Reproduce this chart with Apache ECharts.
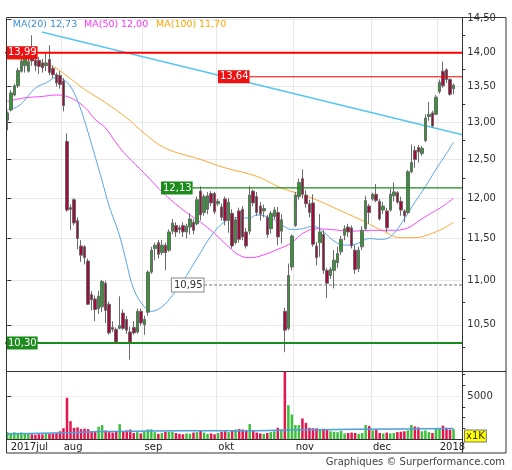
<!DOCTYPE html>
<html lang="fr">
<head>
    <meta charset="UTF-8">
    <title>Graphique cours</title>
    <script type="text/javascript" src="https://cdn.jsdelivr.net/npm/echarts@6.0.0/dist/echarts.min.js"></script>
    <style>
        body{
            padding: 0px;
            margin: 0px;
            background-color: #ffffff;
        }
        #chart{
            width: 512px;
            height: 470px;
        }
    </style>
</head>
<body>
<div id="chart"></div>
<script>
// month labels and the session index where each month starts
var months = ['2017jul', 'aug', 'sep', 'okt', 'nov', 'dec', '2018'];
var monthStart = [0, 16, 39, 60, 82, 104, 123];

// daily sessions
var open = [
    13.03,13.17,13.38,13.51,13.72,13.80,13.72,13.93,13.88,13.88,
    13.84,13.80,13.89,13.76,13.67,13.66,13.58,12.74,11.88,11.98,
    11.72,11.41,11.40,11.23,10.84,10.79,10.68,10.70,10.97,10.73,
    10.47,10.45,10.46,10.63,10.56,10.42,10.47,10.42,10.65,10.50,
    10.64,11.10,11.38,11.45,11.33,11.42,11.36,11.59,11.66,11.63,
    11.66,11.58,11.64,11.70,11.68,12.09,11.82,11.86,12.06,12.06,
    11.93,11.89,11.99,11.72,11.81,11.45,11.84,11.86,11.58,11.59,
    12.09,12.02,11.90,11.84,11.76,11.62,11.77,11.82,11.59,10.65,
    10.46,11.16,11.66,12.02,12.25,12.04,11.93,11.94,11.41,11.45,
    11.55,11.12,11.06,11.12,11.21,11.34,11.54,11.64,11.63,11.36,
    11.14,11.40,11.62,11.90,11.99,12.05,11.96,11.85,11.84,11.85,
    12.03,12.07,11.96,11.84,11.82,12.34,12.62,12.66,12.58,12.75,
    13.08,13.13,13.11,13.43,13.72,13.74,13.60,13.47
];
var high = [
    13.15,13.45,13.54,13.77,13.92,13.93,13.90,14.25,13.92,13.93,
    13.90,13.98,14.10,13.80,13.70,13.72,13.62,12.85,11.92,12.00,
    11.76,11.48,11.42,11.26,10.88,10.83,10.88,11.01,11.00,10.76,
    10.54,10.47,10.82,10.67,10.60,10.48,10.54,10.68,10.68,10.60,
    11.12,11.40,11.45,11.48,11.48,11.45,11.61,11.74,11.70,11.66,
    11.70,11.68,11.81,11.74,12.02,12.15,12.05,12.08,12.09,12.08,
    11.99,11.93,12.02,12.00,11.86,11.76,11.88,11.90,11.63,12.15,
    12.11,12.08,11.95,11.92,11.79,11.84,11.89,11.89,11.80,10.69,
    11.20,11.55,12.08,12.25,12.37,12.10,11.98,12.05,11.46,11.80,
    11.60,11.15,11.16,11.36,11.40,11.53,11.66,11.68,11.66,11.42,
    11.40,11.65,12.03,11.93,12.07,12.18,11.99,11.95,11.88,12.12,
    12.20,12.09,12.02,11.86,12.36,12.70,12.68,12.69,12.68,13.11,
    13.28,13.16,13.38,13.60,13.86,13.76,13.62,13.54
];
var low = [
    12.89,13.15,13.36,13.48,13.70,13.70,13.70,13.80,13.72,13.68,
    13.70,13.72,13.66,13.62,13.50,13.47,13.15,11.83,11.60,11.66,
    11.37,11.22,11.19,10.72,10.66,10.54,10.62,10.64,10.52,10.39,
    10.42,10.29,10.45,10.44,10.40,10.12,10.39,10.40,10.49,10.39,
    10.60,11.08,11.24,11.26,11.30,11.12,11.34,11.55,11.52,11.56,
    11.52,11.50,11.55,11.55,11.66,11.72,11.78,11.80,11.90,11.80,
    11.90,11.72,11.66,11.57,11.38,11.43,11.45,11.48,11.38,11.55,
    11.90,11.78,11.72,11.76,11.51,11.56,11.74,11.42,11.44,10.20,
    10.44,11.12,11.64,11.98,12.00,11.88,11.76,11.40,11.18,11.28,
    11.08,10.80,11.02,10.91,11.15,11.30,11.48,11.52,11.38,11.08,
    11.10,11.36,11.60,11.68,11.97,11.95,11.72,11.80,11.58,11.83,
    11.96,11.93,11.78,11.70,11.80,12.32,12.39,12.46,12.55,12.73,
    13.02,12.93,13.10,13.40,13.48,13.55,13.37,13.39
];
var close = [
    13.13,13.41,13.51,13.73,13.87,13.90,13.86,13.87,13.80,13.79,
    13.77,13.84,13.70,13.67,13.55,13.53,13.23,11.85,11.86,11.69,
    11.50,11.30,11.27,10.73,10.78,10.67,10.82,10.99,10.66,10.41,
    10.45,10.31,10.49,10.46,10.44,10.31,10.41,10.65,10.52,10.56,
    11.10,11.36,11.42,11.31,11.42,11.33,11.58,11.69,11.58,11.61,
    11.58,11.65,11.74,11.60,11.98,11.79,12.02,12.03,11.94,11.83,
    11.96,11.76,11.72,11.95,11.41,11.73,11.49,11.52,11.41,12.04,
    11.94,11.82,11.80,11.87,11.55,11.81,11.85,11.52,11.73,10.44,
    11.06,11.53,12.04,12.20,12.05,11.93,11.82,11.43,11.27,11.58,
    11.12,10.97,11.13,11.24,11.32,11.49,11.62,11.58,11.41,11.13,
    11.36,11.60,11.97,11.82,12.05,11.97,11.74,11.90,11.63,12.05,
    12.08,11.95,11.85,11.78,12.34,12.46,12.50,12.60,12.65,13.06,
    13.11,12.95,13.35,13.56,13.51,13.60,13.39,13.52
];
// volume in thousands of shares
var volume = [
    800,700,780,720,760,700,600,550,500,560,
    540,580,620,650,700,900,1250,4800,2080,1300,
    1350,1150,1200,1150,900,850,1420,1620,1000,800,
    750,850,1730,900,1000,1100,700,800,650,900,
    1120,1120,800,600,700,850,850,850,700,600,
    550,650,600,750,800,950,750,600,650,550,
    700,850,900,800,1000,1100,1150,1100,1050,1730,
    1000,750,650,600,700,800,900,1300,1100,9500,
    3930,2850,1620,1620,2390,1880,1300,1250,1250,1100,
    1200,1050,900,850,800,950,650,700,750,700,
    600,700,1620,1500,1000,1050,700,650,750,650,
    700,800,850,900,1000,1620,1450,1350,900,1000,
    800,700,1250,1250,1550,1300,1100,1150
];

// moving averages as drawn: [session index, value]
var ma20 = [[0,13.17],[3,13.22],[5,13.31],[7,13.43],[9,13.51],[11,13.55],[14,13.63],[16,13.60],
    [18,13.50],[20,13.30],[22,13.02],[24,12.70],[27,12.22],[29,11.90],[32,11.53],[34,11.20],
    [36,10.90],[39,10.70],[41,10.65],[44,10.70],[47,10.83],[51,11.06],[55,11.33],[58,11.53],
    [62,11.71],[66,11.76],[69,11.75],[71,11.79],[75,11.75],[78,11.67],[81,11.61],[84,11.62],
    [87,11.65],[90,11.58],[93,11.47],[96,11.42],[99,11.43],[103,11.50],[106,11.49],[109,11.52],
    [113,11.74],[116,11.95],[118,12.08],[120,12.22],[122,12.37],[125,12.58],[127,12.73]];
var ma50 = [[0,13.29],[5,13.34],[10,13.36],[14,13.38],[18,13.34],[22,13.21],[25,13.04],[28,12.92],
    [31,12.72],[34,12.55],[39,12.32],[45,12.04],[51,11.82],[55,11.70],[59,11.56],[63,11.40],
    [66,11.30],[69,11.27],[72,11.29],[77,11.37],[81,11.45],[84,11.56],[88,11.62],[92,11.61],
    [98,11.59],[104,11.60],[110,11.60],[114,11.63],[118,11.74],[121,11.82],[124,11.90],[127,12.00]];
var ma100 = [[0,13.90],[5,13.89],[9,13.86],[13,13.79],[17,13.65],[22,13.46],[28,13.27],[34,13.06],
    [39,12.85],[45,12.65],[55,12.50],[62,12.39],[71,12.28],[78,12.13],[85,12.03],[90,11.94],
    [95,11.84],[102,11.70],[107,11.59],[112,11.51],[116,11.51],[120,11.55],[124,11.62],[127,11.70]];
var volMa = [[0,580],[17,730],[26,870],[40,920],[59,960],[71,960],[80,1040],[99,1120],[127,1230]];

// drawn trend line and marked levels
var trendLine = [[9.8, 14.30], [129.5, 12.83]];
var resistanceHigh = 13.99;
var resistanceLow = 13.64;
var breakoutLevel = 12.13;
var pivotLevel = 10.95;
var supportLevel = 10.30;

var priceLabels = [10.5, 11, 11.5, 12, 12.5, 13, 13.5, 14, 14.5];
var priceMinorTicks = [10.25, 10.75, 11.25, 11.75, 12.25, 12.75, 13.25, 13.75, 14.25];
var volLabels = [5000];
var volMinorTicks = [1250, 2500, 3750, 6250, 7500];

var legendItems = [['MA(20)', '12,73'], ['MA(50)', '12,00'], ['MA(100)', '11,70']];

// ---------------------------------------------------------------
var chart = echarts.init(document.getElementById('chart'), null, {renderer: 'canvas'});
var FONT = 'DejaVu Sans';
var LN = Math.log;
var X_MIN = -0.5, X_MAX = 129.5;

function fmtPrice(v) {
    return Math.exp(v).toFixed(2).replace('.', ',');
}
function logPairs(arr) {
    return arr.map(function (p) { return [p[0], LN(p[1])]; });
}

var candles = open.map(function (o, i) {
    return [i, LN(o), LN(close[i]), LN(low[i]), LN(high[i])];
});
var volBars = volume.map(function (v, i) {
    return {value: [i, v], itemStyle: {color: close[i] >= open[i] ? '#3cbf3c' : '#e3164d'}};
});

var gridLines = monthStart.slice(1).map(function (s) { return s - 0.5; });
var monthLabelPos = monthStart.map(function (s) { return s - 0.5; });

function levelLine(price, from, color, width, type, pos, box) {
    var label = {
        show: true, position: pos, distance: 0,
        formatter: price.toFixed(2).replace('.', ','),
        fontSize: 10, fontFamily: FONT, padding: [2, 1, 1, 2]
    };
    for (var k in box) label[k] = box[k];
    return {
        type: 'line', xAxisIndex: 0, yAxisIndex: 0, silent: true, z: 4,
        symbol: 'rect', symbolSize: 1, showSymbol: true,
        lineStyle: {color: color, width: width, type: type},
        itemStyle: {color: color},
        data: [
            {value: [from, LN(price)], label: label},
            {value: [X_MAX, LN(price)], label: {show: false}}
        ]
    };
}

var graphics = [
    {type: 'rect', z: 100, silent: true, shape: {x: 6.5, y: 17.5, width: 499.5, height: 435.5},
        style: {fill: 'none', stroke: '#333', lineWidth: 1}},
    {type: 'line', z: 100, silent: true, shape: {x1: 6, y1: 371.5, x2: 506, y2: 371.5},
        style: {stroke: '#333', lineWidth: 1}},
    {type: 'line', z: 100, silent: true, shape: {x1: 6, y1: 439.5, x2: 462.5, y2: 439.5},
        style: {stroke: '#333', lineWidth: 1}},
    {type: 'line', z: 100, silent: true, shape: {x1: 462.5, y1: 17.5, x2: 462.5, y2: 453},
        style: {stroke: '#333', lineWidth: 1}},
    {type: 'text', z: 100, x: 465, y: 436,
        style: {text: 'x1K', fill: '#333', font: '10px ' + FONT, verticalAlign: 'middle',
            backgroundColor: '#ffff00', borderColor: '#777', borderWidth: 1, padding: [1, 1, 0, 1]}},
    {type: 'text', z: 100, x: 505, y: 462,
        style: {text: 'Graphiques \u00a9 Surperformance.com', fill: '#444', font: '10px ' + FONT,
            align: 'right', verticalAlign: 'middle'}}
];
var legendX = [[12.7, 50], [84, 121], [156, 199]];
var legendColors = ['#3d8fdb', '#ff33ff', '#ffa500'];
legendItems.forEach(function (it, i) {
    graphics.push({type: 'text', z: 100, x: legendX[i][0], y: 25,
        style: {text: it[0], fill: legendColors[i], font: '9.5px ' + FONT, verticalAlign: 'middle'}});
    graphics.push({type: 'text', z: 100, x: legendX[i][1], y: 25,
        style: {text: it[1], fill: legendColors[i], font: '9.5px ' + FONT, verticalAlign: 'middle'}});
});

var option = {
    animation: false,
    backgroundColor: '#ffffff',
    textStyle: {fontFamily: FONT},
    grid: [
        {left: 5.5, right: 49.7, top: 17.5, height: 353.5},
        {left: 5.5, right: 49.7, top: 371.5, height: 67.5}
    ],
    xAxis: [
        {gridIndex: 0, type: 'value', min: X_MIN, max: X_MAX,
            axisLine: {show: false}, axisLabel: {show: false},
            axisTick: {show: false, customValues: gridLines},
            splitLine: {show: true, lineStyle: {color: '#e8e8e8'}}},
        {gridIndex: 1, type: 'value', min: X_MIN, max: X_MAX,
            axisLine: {show: false},
            axisTick: {show: false, customValues: gridLines},
            splitLine: {show: true, lineStyle: {color: '#e8e8e8'}},
            axisLabel: {show: true, customValues: monthLabelPos, align: 'left', margin: 3,
                padding: [0, 0, 0, 2], fontSize: 10, color: '#222', fontFamily: FONT,
                formatter: function (v) {
                    var k = monthLabelPos.findIndex(function (p) { return Math.abs(p - v) < 0.01; });
                    return k === 0 ? ' ' + months[k] : months[k];
                }}}
    ],
    yAxis: [
        {gridIndex: 0, type: 'value', position: 'right', min: LN(10.0), max: LN(14.52),
            axisLine: {show: false},
            axisTick: {show: true, length: 4, customValues: priceLabels.map(LN), lineStyle: {color: '#333'}},
            axisLabel: {customValues: priceLabels.map(LN), formatter: fmtPrice, margin: 5,
                fontSize: 10, color: '#333', fontFamily: FONT},
            splitLine: {show: true, lineStyle: {color: '#e8e8e8'}}},
        {gridIndex: 0, type: 'value', position: 'right', min: LN(10.0), max: LN(14.52),
            axisLine: {show: false}, axisLabel: {show: false}, splitLine: {show: false},
            axisTick: {show: true, length: 3, customValues: priceMinorTicks.map(LN), lineStyle: {color: '#333'}}},
        {gridIndex: 1, type: 'value', position: 'right', min: 0, max: 7850,
            axisLine: {show: false},
            axisTick: {show: true, length: 4, customValues: volLabels, lineStyle: {color: '#333'}},
            axisLabel: {customValues: volLabels, margin: 5, fontSize: 10, color: '#333', fontFamily: FONT,
                formatter: function (v) { return String(v); }},
            splitLine: {show: true, lineStyle: {color: '#ecdcdc', type: 'dotted'}}},
        {gridIndex: 1, type: 'value', position: 'right', min: 0, max: 7850,
            axisLine: {show: false}, axisLabel: {show: false}, splitLine: {show: false},
            axisTick: {show: true, length: 3, customValues: volMinorTicks, lineStyle: {color: '#333'}}}
    ],
    graphic: graphics,
    series: [
        {type: 'candlestick', xAxisIndex: 0, yAxisIndex: 0, barWidth: 3, clip: true, z: 3,
            itemStyle: {color: '#2f9a2f', color0: '#a30a3a', borderColor: '#6a6a6a',
                borderColor0: '#6a6a6a', borderWidth: 1},
            data: candles},
        {type: 'line', xAxisIndex: 0, yAxisIndex: 0, showSymbol: false, smooth: 0.4, z: 2,
            lineStyle: {color: '#ffa830', width: 1}, data: logPairs(ma100)},
        {type: 'line', xAxisIndex: 0, yAxisIndex: 0, showSymbol: false, smooth: 0.4, z: 2,
            lineStyle: {color: '#ff44ff', width: 1}, data: logPairs(ma50)},
        {type: 'line', xAxisIndex: 0, yAxisIndex: 0, showSymbol: false, smooth: 0.4, z: 2,
            lineStyle: {color: '#58a6e6', width: 1}, data: logPairs(ma20)},
        {type: 'line', xAxisIndex: 0, yAxisIndex: 0, showSymbol: false, z: 2,
            lineStyle: {color: '#55c6f2', width: 1.5}, data: logPairs(trendLine)},
        levelLine(resistanceHigh, X_MIN, '#ff0000', 2, 'solid', 'right',
            {color: '#fff', backgroundColor: '#ee1111'}),
        levelLine(resistanceLow, 69.1, '#ff0000', 1, 'solid', 'left',
            {color: '#fff', backgroundColor: '#ee1111'}),
        levelLine(breakoutLevel, 52.9, '#1a8a1a', 1.2, 'solid', 'left',
            {color: '#fff', backgroundColor: '#1c8c1c'}),
        levelLine(pivotLevel, 56, '#777777', 1, [3, 2], 'left',
            {color: '#333', backgroundColor: '#fff', borderColor: '#888', borderWidth: 1}),
        levelLine(supportLevel, X_MIN, '#1a8a1a', 2, 'solid', 'right',
            {color: '#fff', backgroundColor: '#1c8c1c'}),
        {type: 'bar', xAxisIndex: 1, yAxisIndex: 2, barWidth: 2.5, clip: true, data: volBars},
        {type: 'line', xAxisIndex: 1, yAxisIndex: 2, showSymbol: false, smooth: 0.3,
            lineStyle: {color: '#4a9fe0', width: 1.5}, data: volMa}
    ]
};
chart.setOption(option);
</script>
</body>
</html>
